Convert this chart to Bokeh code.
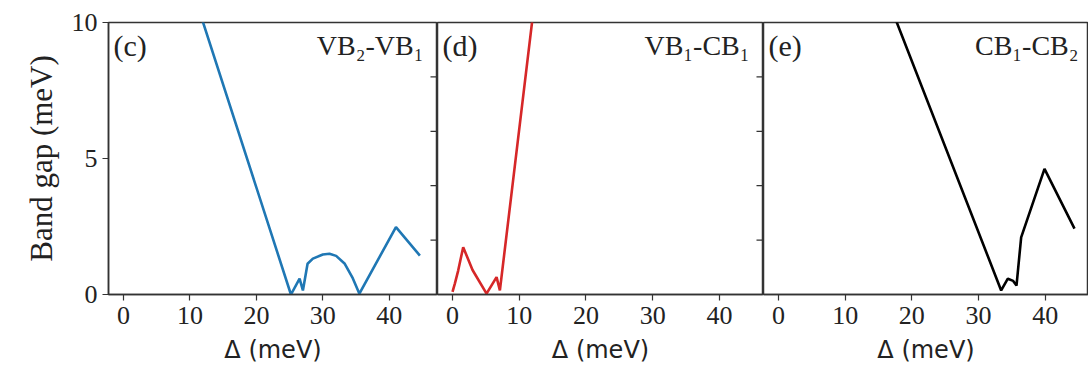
from bokeh.plotting import figure
from bokeh.layouts import row
from bokeh.models import Range1d, FixedTicker, Label
from bokeh.embed import file_html
from bokeh.resources import INLINE

# ---- data ----
x_ticks = [0, 10, 20, 30, 40]
y_ticks_left = [0, 5, 10]
y_ticks_inner = [2, 4, 6, 8]

# (c) VB2-VB1
x_c = [10.0, 25.2, 26.5, 27.0, 27.7, 28.5, 30.0, 31.0, 32.0, 33.3, 34.5, 35.5, 41.0, 44.6]
y_c = [11.5, 0.0, 0.58, 0.15, 1.13, 1.32, 1.47, 1.50, 1.42, 1.13, 0.60, 0.03, 2.48, 1.43]

# (d) VB1-CB1
x_d = [0.0, 0.35, 0.85, 1.6, 3.0, 5.1, 6.6, 7.1, 12.5]
y_d = [0.1, 0.40, 0.88, 1.74, 0.9, 0.03, 0.64, 0.15, 11.2]

# (e) CB1-CB2
x_e = [16.0, 33.4, 34.4, 35.2, 35.7, 36.4, 39.9, 44.4]
y_e = [11.1, 0.15, 0.58, 0.50, 0.33, 2.10, 4.62, 2.42]

panel_tags = ["(c)", "(d)", "(e)"]
panel_titles = ["VB₂-VB₁", "VB₁-CB₁", "CB₁-CB₂"]
colors = ["#1f77b4", "#d62728", "#000000"]

SERIF = "Liberation Serif"
TXT = "#222222"
SPINE = "#333333"


def make_panel(idx, xs, ys, width, x_end, left_border, show_left, inner_right):
    p = figure(width=width, height=368,
               x_range=Range1d(-2.25, x_end), y_range=Range1d(0, 10),
               output_backend="svg", toolbar_location=None,
               y_axis_location="left" if show_left else None,
               min_border_left=left_border, min_border_right=0,
               min_border_top=22, min_border_bottom=74)
    p.grid.visible = False
    p.outline_line_color = SPINE
    p.outline_line_width = 1.5
    p.background_fill_color = "white"
    p.border_fill_color = "white"

    xa = p.xaxis[0]
    xa.ticker = FixedTicker(ticks=x_ticks)
    xa.minor_tick_line_color = None
    xa.major_tick_in = 0
    xa.major_tick_out = 6
    xa.major_tick_line_color = SPINE
    xa.major_tick_line_width = 1.2
    xa.axis_line_color = SPINE
    xa.axis_line_width = 1.5
    xa.major_label_text_font = SERIF
    xa.major_label_text_font_size = "26px"
    xa.major_label_text_color = TXT
    xa.major_label_standoff = 6
    xa.axis_label = "Δ (meV)"
    xa.axis_label_text_font = "DejaVu Sans"
    xa.axis_label_text_font_size = "24px"
    xa.axis_label_text_font_style = "normal"
    xa.axis_label_text_color = TXT
    xa.axis_label_standoff = 9

    if show_left:
        ya = p.yaxis[0]
        ya.ticker = FixedTicker(ticks=y_ticks_left)
        ya.minor_tick_line_color = None
        ya.major_tick_in = 0
        ya.major_tick_out = 6
        ya.major_tick_line_color = SPINE
        ya.major_tick_line_width = 1.2
        ya.axis_line_color = SPINE
        ya.axis_line_width = 1.5
        ya.major_label_text_font = SERIF
        ya.major_label_text_font_size = "26px"
        ya.major_label_text_color = TXT
        ya.major_label_standoff = 5
        ya.axis_label = "Band gap (meV)"
        ya.axis_label_text_font = SERIF
        ya.axis_label_text_font_size = "31px"
        ya.axis_label_text_font_style = "normal"
        ya.axis_label_text_color = TXT
        ya.axis_label_standoff = 10

    if inner_right:
        # tick marks of the next panel's shared y spine, pointing into this panel
        p.scatter([x_end] * len(y_ticks_inner), y_ticks_inner, marker="dash",
                  size=14, line_color=SPINE, line_width=1.2)

    p.line(xs, ys, line_color=colors[idx], line_width=2.6)

    p.add_layout(Label(x=-2.25, y=10, x_offset=5, y_offset=-6, text=panel_tags[idx],
                       text_align="left", text_baseline="top", text_font=SERIF,
                       text_font_size="30px", text_color=TXT))
    p.add_layout(Label(x=x_end, y=10, x_offset=-14 if idx < 2 else -10, y_offset=-7,
                       text=panel_titles[idx], text_align="right", text_baseline="top",
                       text_font=SERIF, text_font_size="28px", text_color=TXT))
    return p


pc = make_panel(0, x_c, y_c, 437, 47.25, 108, True, True)
pd_ = make_panel(1, x_d, y_d, 326, 46.6, 0, False, True)
pe = make_panel(2, x_e, y_e, 325, 46.5, 0, False, False)

layout = row(pc, pd_, pe, spacing=0)

open("out.html", "w").write(file_html(layout, INLINE))
